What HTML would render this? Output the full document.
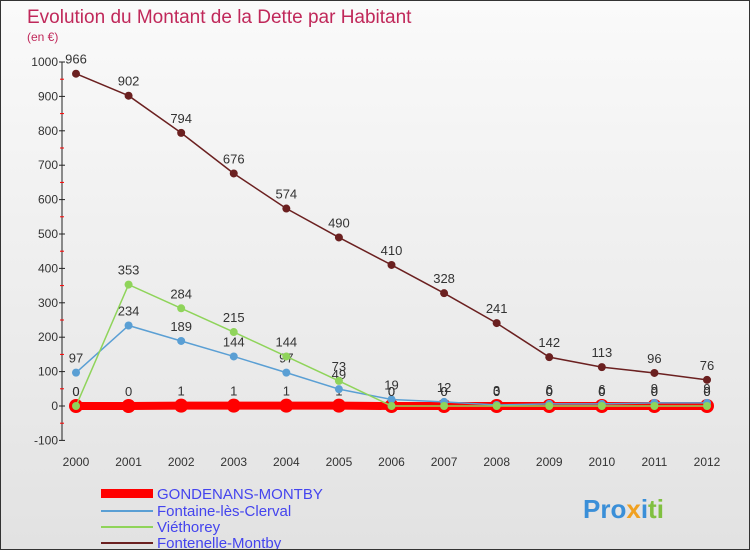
<!DOCTYPE html>
<html><head><meta charset="utf-8"><style>
body{margin:0}
#c{width:750px;height:550px;position:relative;overflow:hidden;font-family:"Liberation Sans",sans-serif;background:linear-gradient(#fafafa,#e2e2e2);border:1px solid #333;box-sizing:border-box}
</style></head><body>
<div id="c">
<svg id="s" width="750" height="550" style="position:absolute;left:0;top:0">
<text x="26" y="22" font-size="19" fill="#c0285a">Evolution du Montant de la Dette par Habitant</text>
<text x="26" y="40" font-size="12" fill="#c0285a">(en €)</text>
<g id="g"></g>
<g>
<rect x="100" y="488" width="52" height="9" fill="#f00"/>
<text x="156" y="498" font-size="15" fill="#4444ee">GONDENANS-MONTBY</text>
<line x1="100" y1="510" x2="152" y2="510" stroke="#5a9fd4" stroke-width="2"/>
<text x="156" y="515" font-size="15" fill="#4444ee">Fontaine-lès-Clerval</text>
<line x1="100" y1="526" x2="152" y2="526" stroke="#8fd45a" stroke-width="2"/>
<text x="156" y="531" font-size="15" fill="#4444ee">Viéthorey</text>
<line x1="100" y1="542" x2="152" y2="542" stroke="#6b2020" stroke-width="2"/>
<text x="156" y="547" font-size="15" fill="#4444ee">Fontenelle-Montby</text>
</g>
<text x="582" y="517" font-size="26" font-weight="bold"><tspan fill="#3a8fd8">Pro</tspan><tspan fill="#f0a020">x</tspan><tspan fill="#3a8fd8">i</tspan><tspan fill="#80c040">ti</tspan></text>
</svg>
</div>
<script>
const years=[2000,2001,2002,2003,2004,2005,2006,2007,2008,2009,2010,2011,2012];
const gondenans=[0,0,1,1,1,1,0,0,0,0,0,0,0];
const fontaine=[97,234,189,144,97,49,19,12,3,6,6,9,9];
const viethorey=[0,353,284,215,144,73,0,0,0,0,0,0,0];
const fontenelle=[966,902,794,676,574,490,410,328,241,142,113,96,76];
const yTicks=[-100,0,100,200,300,400,500,600,700,800,900,1000];
const NS="http://www.w3.org/2000/svg";
const g=document.getElementById('g');
const X=i=>75+i*(706-75)/12;
const Y=v=>405-v*0.344;
function el(t,a,p){const e=document.createElementNS(NS,t);for(const k in a)e.setAttribute(k,a[k]);(p||g).appendChild(e);return e;}
let ax=el('line',{x1:61,y1:Y(1000),x2:61,y2:Y(-100),stroke:'#222'});


yTicks.forEach(v=>{
 el('line',{x1:58,y1:Y(v),x2:64,y2:Y(v),stroke:'#222'});
 if(v<1000){el('line',{x1:59,y1:Y(v+50),x2:63,y2:Y(v+50),stroke:'#f00'});}
 const t=el('text',{x:57,y:Y(v)+4,'font-size':12,'text-anchor':'end',fill:'#333'});t.textContent=v;
 
 
});
years.forEach((yr,i)=>{
 const t=el('text',{x:X(i),y:465,'font-size':12,'text-anchor':'middle',fill:'#333'});t.textContent=yr;
 
 
});
function series(vals,color,w,r,name){
 const p=el('polyline',{points:vals.map((v,i)=>X(i)+','+Y(v)).join(' '),fill:'none',stroke:color,'stroke-width':w});
 
 
 vals.forEach((v,i)=>{
  const c=el('circle',{cx:X(i),cy:Y(v),r:r,fill:color});
  
  
  const t=el('text',{x:X(i),y:Y(v)-10,'font-size':13,'text-anchor':'middle',fill:'#333'});t.textContent=v;
 });
}
series(gondenans,'#f00',8,7,'gondenans');
series(fontenelle,'#6b2020',1.5,4,'fontenelle');
series(fontaine,'#5a9fd4',1.5,4,'fontaine');
series(viethorey,'#8fd45a',1.5,4,'viethorey');
</script>
</body></html>
